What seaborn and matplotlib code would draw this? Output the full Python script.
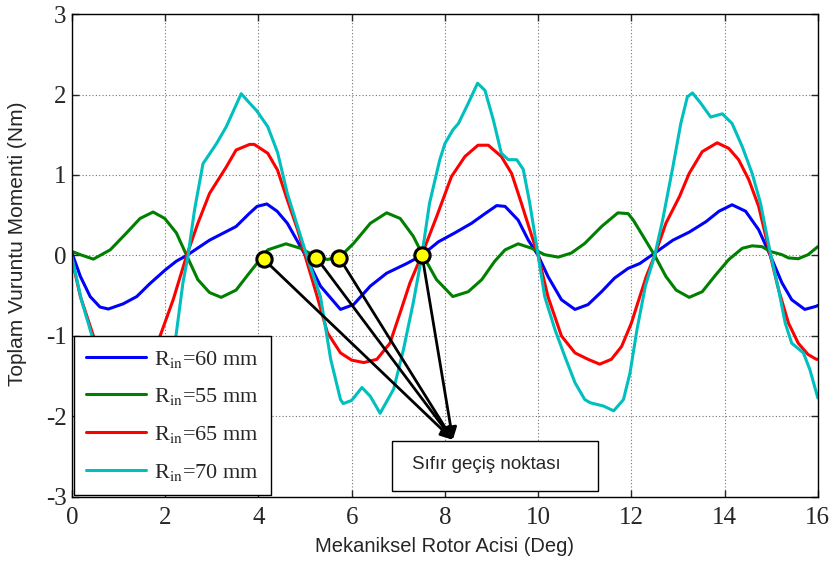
import numpy as np
import matplotlib
matplotlib.use("Agg")
import matplotlib.pyplot as plt
from matplotlib.patches import Rectangle
import seaborn as sns

# rotor angle (deg) and cogging torque (Nm)
x_60 = [0, 0.18, 0.39, 0.6, 0.78, 1.1, 1.39, 1.67, 2.0, 2.24, 2.46, 2.95, 3.52, 3.8, 3.97, 4.18,
        4.4, 4.62, 4.98, 5.33, 5.76, 6.04, 6.4, 6.75, 7.18, 7.5, 7.86, 8.21, 8.57, 8.86, 9.11,
        9.29, 9.57, 9.79, 10.0, 10.21, 10.5, 10.79, 11.07, 11.36, 11.64, 11.93, 12.18, 12.5,
        12.89, 13.24, 13.6, 13.88, 14.16, 14.45, 14.73, 14.98, 15.23, 15.44, 15.72, 15.97, 16.0]
y_60 = [0.03, -0.26, -0.51, -0.64, -0.665, -0.6, -0.51, -0.35, -0.18, -0.07, 0.0, 0.19, 0.36,
        0.52, 0.61, 0.64, 0.55, 0.4, 0.03, -0.38, -0.67, -0.61, -0.38, -0.22, -0.1, 0.0, 0.17,
        0.28, 0.4, 0.52, 0.62, 0.61, 0.44, 0.19, 0.0, -0.26, -0.55, -0.67, -0.61, -0.45, -0.28,
        -0.16, -0.1, 0.03, 0.19, 0.29, 0.42, 0.55, 0.63, 0.55, 0.32, 0.0, -0.34, -0.55, -0.67,
        -0.63, -0.62]

x_55 = [0, 0.18, 0.46, 0.82, 1.17, 1.46, 1.74, 1.99, 2.24, 2.46, 2.7, 2.95, 3.2, 3.52, 3.8, 3.91,
        4.2, 4.59, 4.9, 5.16, 5.48, 5.76, 6.04, 6.4, 6.75, 7.04, 7.32, 7.53, 7.82, 8.17, 8.5,
        8.79, 9.07, 9.29, 9.57, 9.86, 10.14, 10.43, 10.71, 11.0, 11.36, 11.71, 11.93, 12.04,
        12.25, 12.5, 12.74, 12.96, 13.24, 13.52, 13.81, 14.09, 14.38, 14.59, 14.8, 14.98, 15.23,
        15.37, 15.58, 15.79, 16.0]
y_55 = [0.05, 0.01, -0.045, 0.07, 0.28, 0.46, 0.54, 0.46, 0.28, 0.0, -0.3, -0.46, -0.52, -0.43,
        -0.22, -0.14, 0.07, 0.145, 0.09, 0.01, -0.05, -0.01, 0.15, 0.4, 0.53, 0.46, 0.24, 0.0,
        -0.3, -0.51, -0.45, -0.3, -0.07, 0.07, 0.145, 0.09, 0.01, -0.02, 0.03, 0.15, 0.36, 0.53,
        0.52, 0.44, 0.24, 0.0, -0.26, -0.43, -0.52, -0.45, -0.24, -0.05, 0.09, 0.12, 0.11, 0.05,
        0.01, -0.03, -0.04, 0.01, 0.11]

x_65 = [0, 0.18, 0.46, 0.7, 1.0, 1.3, 1.6, 1.89, 2.17, 2.46, 2.7, 2.95, 3.31, 3.52, 3.81, 3.91,
        4.2, 4.41, 4.62, 4.84, 5.05, 5.26, 5.48, 5.76, 6.0, 6.26, 6.54, 6.82, 7.04, 7.25, 7.5,
        7.82, 8.14, 8.43, 8.71, 8.93, 9.21, 9.43, 9.64, 9.82, 10.0, 10.21, 10.5, 10.79, 11.07,
        11.32, 11.57, 11.79, 12.0, 12.12, 12.32, 12.5, 12.74, 13.03, 13.24, 13.52, 13.84, 14.09,
        14.3, 14.52, 14.73, 14.98, 15.16, 15.37, 15.58, 15.79, 15.97, 16.0]
y_65 = [-0.05, -0.51, -1.0, -1.2, -1.32, -1.35, -1.25, -1.0, -0.55, 0.0, 0.4, 0.77, 1.1, 1.31,
        1.38, 1.38, 1.27, 1.06, 0.69, 0.32, -0.1, -0.51, -0.96, -1.21, -1.3, -1.33, -1.29, -1.09,
        -0.71, -0.34, 0.0, 0.48, 0.98, 1.23, 1.37, 1.37, 1.23, 1.02, 0.65, 0.32, 0.0, -0.51, -1.0,
        -1.21, -1.29, -1.35, -1.29, -1.13, -0.84, -0.62, -0.26, 0.0, 0.4, 0.73, 1.02, 1.29, 1.4,
        1.33, 1.19, 0.94, 0.61, 0.0, -0.43, -0.84, -1.09, -1.23, -1.29, -1.29]

x_70 = [0, 0.2, 0.43, 0.7, 1.0, 1.3, 1.6, 1.9, 2.1, 2.23, 2.38, 2.49, 2.63, 2.81, 3.1, 3.31,
        3.63, 3.8, 3.96, 4.2, 4.41, 4.62, 4.84, 5.09, 5.33, 5.55, 5.76, 5.82, 6.0, 6.22, 6.4,
        6.61, 6.9, 7.11, 7.32, 7.5, 7.67, 7.89, 8.0, 8.17, 8.29, 8.5, 8.7, 8.86, 9.04, 9.21,
        9.36, 9.54, 9.68, 9.82, 10.0, 10.14, 10.36, 10.57, 10.79, 11.0, 11.12, 11.4, 11.62,
        11.83, 11.97, 12.12, 12.3, 12.5, 12.67, 12.89, 13.06, 13.2, 13.31, 13.49, 13.7, 13.95,
        14.16, 14.38, 14.59, 14.77, 14.98, 15.16, 15.3, 15.44, 15.69, 15.83, 16.0]
y_70 = [-0.02, -0.55, -1.0, -1.6, -1.85, -1.75, -1.9, -1.6, -1.3, -1.0, -0.34, 0.0, 0.57, 1.14,
        1.39, 1.6, 2.01, 1.9, 1.8, 1.6, 1.28, 0.77, 0.36, -0.1, -0.51, -1.29, -1.79, -1.84, -1.8,
        -1.64, -1.75, -1.96, -1.66, -1.17, -0.59, -0.02, 0.65, 1.19, 1.39, 1.56, 1.64, 1.89, 2.14,
        2.05, 1.68, 1.27, 1.19, 1.19, 1.07, 0.65, 0.0, -0.51, -0.92, -1.25, -1.58, -1.79, -1.83,
        -1.87, -1.93, -1.79, -1.46, -0.92, -0.38, 0.0, 0.44, 1.1, 1.64, 1.97, 2.02, 1.89, 1.72,
        1.76, 1.64, 1.35, 1.02, 0.65, 0.03, -0.43, -0.84, -1.09, -1.21, -1.42, -1.77]

labels = [r"R$_{\rm in}$=60 mm", r"R$_{\rm in}$=55 mm", r"R$_{\rm in}$=65 mm", r"R$_{\rm in}$=70 mm"]
colors = ["#0000ff", "#008000", "#ff0000", "#00bfbf"]

# zero-crossing points marked in yellow
zero_x = [4.11, 5.24, 5.73, 7.51]
zero_y = [-0.045, -0.025, -0.025, 0.0]
arrow_tip = (8.17, -2.29)

sns.set_style("ticks")
plt.rcParams["font.family"] = ["Liberation Serif", "DejaVu Serif"]
plt.rcParams["mathtext.fontset"] = "stix"
plt.rcParams["axes.unicode_minus"] = False

fig = plt.figure(figsize=(8.39, 5.67), dpi=100)
ax = fig.add_axes([0.0858, 0.1235, 0.889, 0.8518])

series = [(x_60, y_60), (x_55, y_55), (x_65, y_65), (x_70, y_70)]
for (xs, ys), lab, col in zip(series, labels, colors):
    sns.lineplot(x=xs, y=ys, ax=ax, color=col, lw=2.2, label=lab, sort=False, estimator=None)

ax.set_xlim(0, 16)
ax.set_ylim(-3, 3)
ax.set_xticks(np.arange(0, 17, 2))
ax.set_yticks(np.arange(-3, 4, 1))
ax.grid(True, color="0.45", linestyle=(0, (1, 2)), linewidth=0.8)
ax.tick_params(direction="in", length=5, width=1, labelsize=18, top=True, right=True)
ax.tick_params(axis="x", pad=7)
ax.tick_params(axis="y", pad=4)
for s in ax.spines.values():
    s.set_color("black")
    s.set_linewidth(1)

ax.set_xlabel("Mekaniksel Rotor Acisi (Deg)", fontsize=14.5, family="Liberation Sans", labelpad=6)
ax.set_ylabel("Toplam Vuruntu Momenti (Nm)", fontsize=15, family="Liberation Sans")
ax.yaxis.set_label_coords(-0.06, 0.525)

leg = ax.legend(loc="lower left", fontsize=16, frameon=True, fancybox=False, framealpha=1,
                edgecolor="black", handlelength=2.7, handletextpad=0.35, labelspacing=0.75,
                borderaxespad=0.1, borderpad=0.55)
leg.get_frame().set_linewidth(1)
leg.set_zorder(5)

for zx, zy in zip(zero_x, zero_y):
    ax.annotate("", xy=arrow_tip, xytext=(zx, zy),
                arrowprops=dict(arrowstyle="-|>", color="black", lw=2, mutation_scale=18,
                                shrinkA=6, shrinkB=0), zorder=6)
ax.plot(zero_x, zero_y, "o", ms=11, mfc="#ffff00", mec="black", mew=2.2, zorder=7)

ax.add_patch(Rectangle((6.87, -2.93), 4.42, 0.63, facecolor="white", edgecolor="black", lw=1, zorder=8))
ax.text(7.3, -2.6, "Sıfır geçiş noktası", fontsize=13.5, family="Liberation Sans", va="center", zorder=9)

fig.savefig("out.png", dpi=100)
